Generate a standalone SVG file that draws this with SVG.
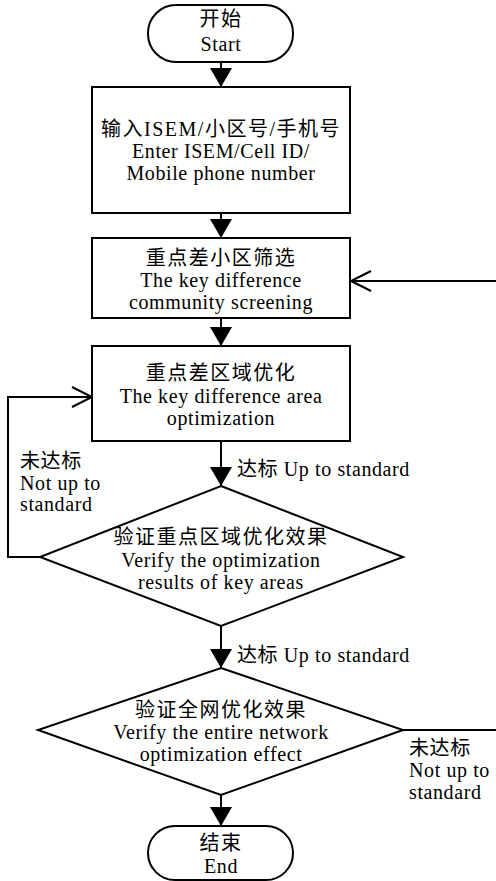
<svg xmlns="http://www.w3.org/2000/svg" width="496" height="881" viewBox="0 0 496 881">
<style>
.s{fill:#fff;stroke:#000;stroke-width:2}
.c{fill:none;stroke:#000;stroke-width:2}
text{font-family:"Liberation Serif","Noto Sans CJK SC",serif;font-size:20px;fill:#000;letter-spacing:0.6px}
.m{text-anchor:middle}
.z{letter-spacing:1.5px}
</style>
<defs>
<marker id="fa" markerUnits="userSpaceOnUse" markerWidth="22" markerHeight="22" refX="19" refY="11" orient="auto">
<path d="M0,0 L19,11 L0,22 Z" fill="#000"/>
</marker>
<marker id="oa" markerUnits="userSpaceOnUse" markerWidth="24" markerHeight="24" refX="21" refY="12" orient="auto">
<path d="M1,2 L21,12 L1,22" fill="none" stroke="#000" stroke-width="2"/>
</marker>
</defs>
<g id="connectors">
<line class="c" x1="221" y1="62" x2="221" y2="87" marker-end="url(#fa)"/>
<line class="c" x1="221" y1="213" x2="221" y2="238" marker-end="url(#fa)"/>
<line class="c" x1="221" y1="318" x2="221" y2="346" marker-end="url(#fa)"/>
<line class="c" x1="221" y1="441" x2="221" y2="486" marker-end="url(#fa)"/>
<line class="c" x1="221" y1="626" x2="221" y2="668" marker-end="url(#fa)"/>
<line class="c" x1="221" y1="795" x2="221" y2="826" marker-end="url(#fa)"/>
<polyline class="c" points="40,557 8,557 8,397 92,397" marker-end="url(#oa)"/>
<polyline class="c" points="403,730 496,730"/>
<line class="c" x1="496" y1="281" x2="351" y2="281" marker-end="url(#oa)"/>
<text x="237" y="476">达标 Up to standard</text>
<text x="237" y="662">达标 Up to standard</text>
<text x="20" y="468">未达标</text>
<text x="20" y="490">Not up to</text>
<text x="20" y="511">standard</text>
<text x="409" y="755">未达标</text>
<text x="409" y="777">Not up to</text>
<text x="409" y="799">standard</text>
</g>
<g id="start">
<rect class="s" x="148" y="5" width="145" height="57" rx="28"/>
<text class="m z" x="221" y="26">开始</text>
<text class="m" x="221" y="51">Start</text>
</g>
<g id="input">
<rect class="s" x="92" y="87" width="258" height="126"/>
<text class="m z" x="221" y="136">输入ISEM/小区号/手机号</text>
<text class="m" x="221" y="158">Enter ISEM/Cell ID/</text>
<text class="m" x="221" y="180">Mobile phone number</text>
</g>
<g id="screening">
<rect class="s" x="92" y="238" width="258" height="80"/>
<text class="m z" x="221" y="265">重点差小区筛选</text>
<text class="m" x="221" y="287">The key difference</text>
<text class="m" x="221" y="309">community screening</text>
</g>
<g id="optimization">
<rect class="s" x="92" y="346" width="258" height="95"/>
<text class="m z" x="221" y="380">重点差区域优化</text>
<text class="m" x="221" y="403">The key difference area</text>
<text class="m" x="221" y="425">optimization</text>
</g>
<g id="verify-key">
<polygon class="s" points="221,486 403,557 221,626 40,557"/>
<text class="m z" x="221" y="544">验证重点区域优化效果</text>
<text class="m" x="221" y="567">Verify the optimization</text>
<text class="m" x="221" y="589">results of key areas</text>
</g>
<g id="verify-net">
<polygon class="s" points="221,668 403,730 221,795 38,730"/>
<text class="m z" x="221" y="717">验证全网优化效果</text>
<text class="m" x="221" y="739">Verify the entire network</text>
<text class="m" x="221" y="761">optimization effect</text>
</g>
<g id="end">
<rect class="s" x="148" y="826" width="145" height="54" rx="27"/>
<text class="m z" x="221" y="850">结束</text>
<text class="m" x="221" y="873">End</text>
</g>
</svg>
